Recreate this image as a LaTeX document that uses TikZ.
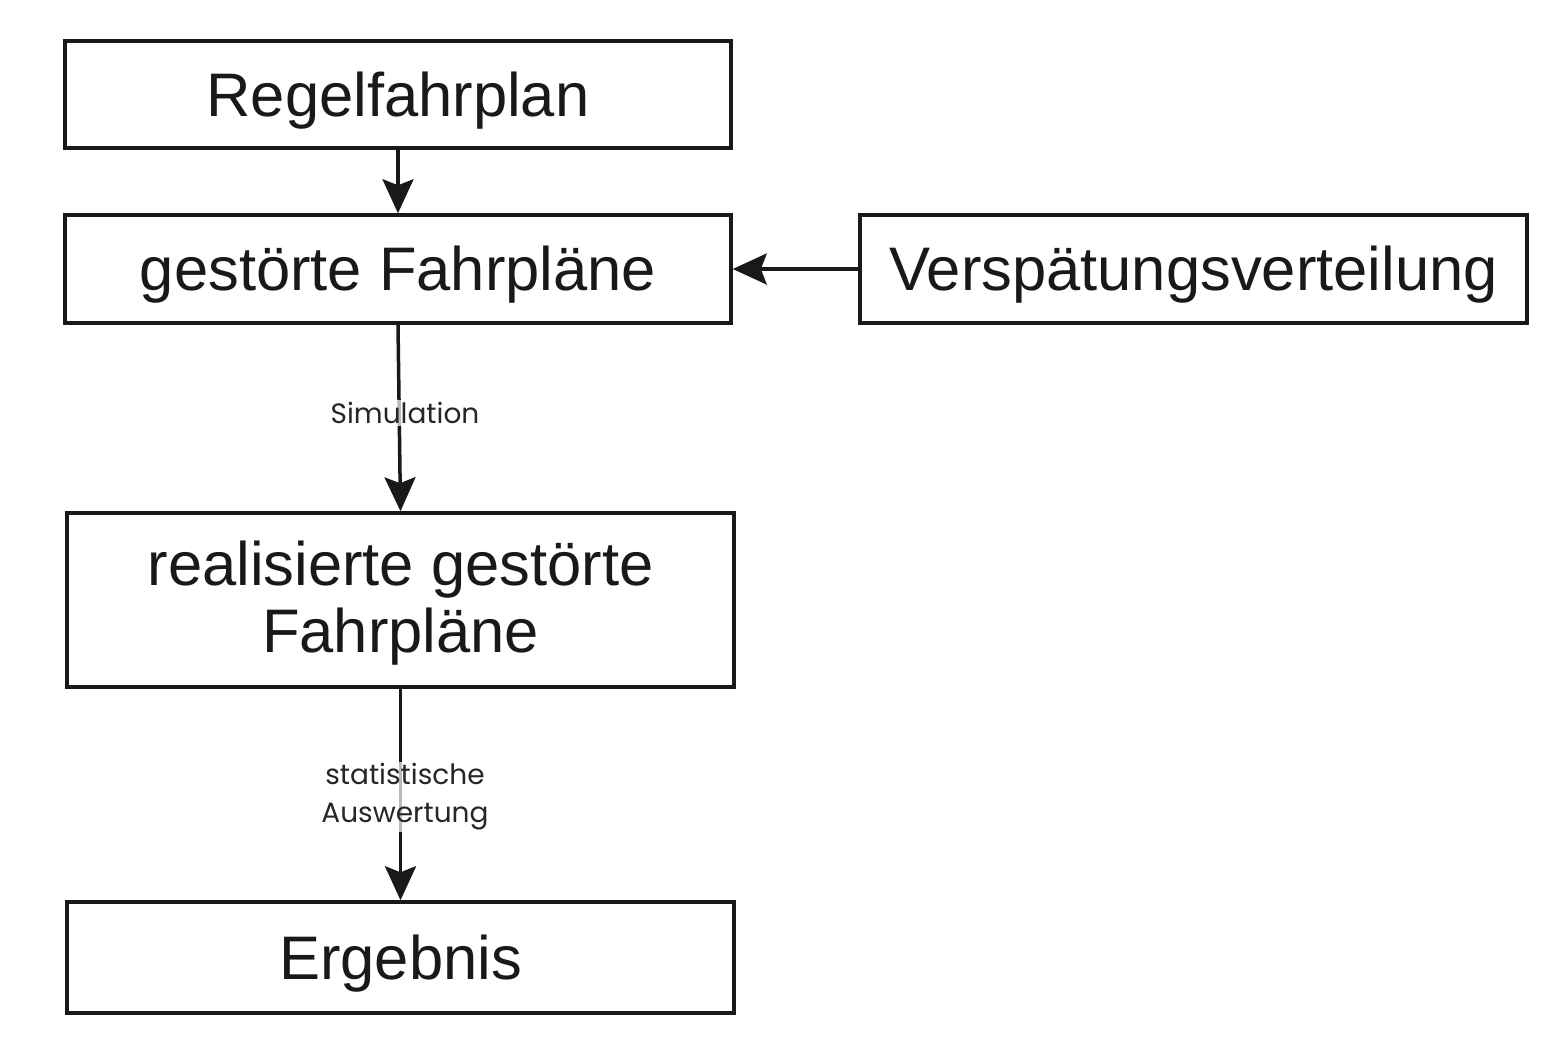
\documentclass[tikz,border=0pt]{standalone}
\usepackage{fontspec}
\setmainfont{Liberation Sans}
\newfontfamily\lblfont{Poppins}
\usetikzlibrary{arrows.meta}
\newcommand{\dn}[1]{\raisebox{-6pt}[\height][\depth]{#1}}
\begin{document}
\begin{tikzpicture}[x=1pt,y=-1pt,
  box/.style={draw=black!90, line width=3.5pt, minimum width=666pt, inner sep=0pt, align=center,
    font=\fontsize{61.5}{67}\selectfont, text=black!90},
  conn/.style={line width=3.5pt, draw=black!90, -{Stealth[length=34pt,width=31pt,inset=6pt]}},
  lbl/.style={fill=white, fill opacity=0.7, text opacity=1, text=black!85, inner sep=2pt,
    font=\lblfont\fontsize{28}{38}\selectfont, align=center}]
\useasboundingbox[fill=white] (0,0) rectangle (1555,1039);
\node[box, minimum height=107pt] (regel) at (398,94.5) {\dn{Regelfahrplan}};
\node[box, minimum height=108pt] (gest) at (398,269) {\dn{gestörte Fahrpläne}};
\node[box, minimum height=108pt, minimum width=667pt] (vert) at (1193.5,269) {\dn{Verspätungsverteilung}};
\node[box, minimum height=174pt, minimum width=667pt] (real) at (400.5,600) {\dn{\begin{tabular}{@{}c@{}}realisierte gestörte\\Fahrpläne\end{tabular}}};
\node[box, minimum height=111pt, minimum width=667pt] (erg) at (400.5,957.5) {\dn{Ergebnis}};
\draw[conn] (regel.south) -- (gest.north);
\draw[conn] (vert.west) -- (gest.east);
\draw[conn] (gest.south) -- (real.north);
\draw[conn] (real.south) -- (erg.north);
\node[lbl] (sim) at (405,413) {Simulation};
\node[lbl] (stat) at (405,797) {statistische\\Auswertung};
\end{tikzpicture}
\end{document}
